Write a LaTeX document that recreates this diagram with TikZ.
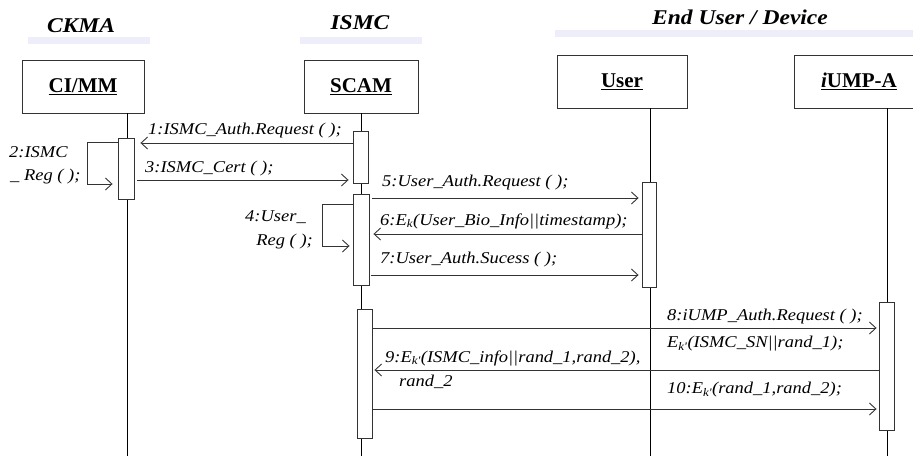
\documentclass[tikz,border=0pt]{standalone}
\usepackage{fontspec}
\setmainfont{Liberation Serif}
\newfontfamily\msgfont{Liberation Serif}[FakeStretch=1.12]
\usetikzlibrary{arrows.meta}
\definecolor{barcol}{HTML}{EEEEFA}
\definecolor{linecol}{HTML}{333333}
\tikzset{
  lifeline/.style={draw=black, line width=0.9pt},
  objbox/.style={draw=linecol, line width=0.9pt, fill=white, minimum height=53pt, inner sep=0pt, font=\fontsize{21}{24}\selectfont\bfseries},
  act/.style={draw=linecol, line width=0.9pt, fill=white, inner sep=0pt},
  msg/.style={draw=linecol, line width=0.9pt, -{Straight Barb[length=6.5pt,width=12pt,line width=0.9pt]}},
  lbl/.style={anchor=west, inner sep=0pt, font=\msgfont\itshape\fontsize{16.5}{19}\selectfont},
  hdr/.style={inner sep=0pt, font=\msgfont\bfseries\itshape\fontsize{21}{24}\selectfont},
  bar/.style={fill=barcol, draw=none}
}
\begin{document}
\begin{tikzpicture}[x=1pt, y=-1pt]
\useasboundingbox (0,0) rectangle (913,456);
\clip (0,0) rectangle (913,456);
% headers
\fill[barcol] (28,37) rectangle (150,44);
\fill[barcol] (300,37) rectangle (422,44);
\fill[barcol] (555,30) rectangle (913,37);
\node[hdr] (hCKMA) at (81,26) {CKMA};
\node[hdr] (hISMC) at (360,23) {ISMC};
\node[hdr] (hEnd) at (740,17) {End User / Device};
% lifeline coordinates
\coordinate (endC) at (127,456);
\coordinate (endS) at (361,456);
\coordinate (endU) at (650,456);
\coordinate (endI) at (887,456);
% object boxes
\node[objbox, minimum width=122pt] (CIMM) at (83,86.5) {\underline{CI/MM}};
\node[objbox, minimum width=114pt] (SCAM) at (361,86.5) {\underline{SCAM}};
\node[objbox, minimum width=130pt] (User) at (622,81.5) {\underline{User}};
\node[objbox, minimum width=140pt, text width=126pt, align=left] (IUMP) at (864,81.5) {\hspace*{20pt}\underline{\textit{i}UMP-A}};
% lifelines
\draw[lifeline] (127,113) -- (endC);
\draw[lifeline] (SCAM.south) -- (endS);
\draw[lifeline] (650,108) -- (endU);
\draw[lifeline] (887,108) -- (endI);
% activations
\node[act, minimum width=16pt, minimum height=61pt] (A1) at (126,168.5) {};
\node[act, minimum width=15pt, minimum height=52pt] (S1) at (360.5,157) {};
\node[act, minimum width=16pt, minimum height=91pt] (S2) at (361,239.5) {};
\node[act, minimum width=14pt, minimum height=105pt] (U1) at (649,234.5) {};
\node[act, minimum width=15pt, minimum height=129pt] (S3) at (364.5,373.5) {};
\node[act, minimum width=15pt, minimum height=128pt] (I1) at (886.5,366) {};
% message y levels
\coordinate (m1) at (0,143);
\coordinate (m2a) at (0,142);
\coordinate (m2b) at (0,184);
\coordinate (m3) at (0,180);
\coordinate (m4a) at (0,204);
\coordinate (m4b) at (0,246);
\coordinate (m5) at (0,198);
\coordinate (m6) at (0,234);
\coordinate (m7) at (0,275);
\coordinate (m8) at (0,328);
\coordinate (m9) at (0,370);
\coordinate (m10) at (0,409);
% messages
\draw[msg, shorten >=6pt] (S1.west |- m1) -- (A1.east |- m1);
\draw[msg, shorten >=5pt] (A1.west |- m2a) -- ++(-30,0) |- (A1.west |- m2b);
\draw[msg, shorten <=3pt, shorten >=4pt] (A1.east |- m3) -- (S1.west |- m3);
\draw[msg, shorten >=3pt] (S2.west |- m4a) -- ++(-30,0) |- (S2.west |- m4b);
\draw[msg, shorten <=3pt, shorten >=3pt] (S2.east |- m5) -- (U1.west |- m5);
\draw[msg, shorten >=4pt] (U1.west |- m6) -- (S2.east |- m6);
\draw[msg, shorten <=2pt, shorten >=3pt] (S2.east |- m7) -- (U1.west |- m7);
\draw[msg, shorten >=2pt] (S3.east |- m8) -- (I1.west |- m8);
\draw[msg, shorten >=2pt] (I1.west |- m9) -- (S3.east |- m9);
\draw[msg, shorten >=2pt] (S3.east |- m10) -- (I1.west |- m10);
% labels
\node[lbl] (l1) at (148,131) {1:ISMC\_Auth.Request ( );};
\node[lbl] (l2a) at (9,152) {2:ISMC};
\node[lbl] (l2b) at (10,177) {\_ Reg ( );};
\node[lbl] (l3) at (145,169) {3:ISMC\_Cert ( );};
\node[lbl, anchor=east] (l4a) at (306,217) {4:User\_};
\node[lbl, anchor=east] (l4b) at (313,242) {Reg ( );};
\node[lbl] (l5) at (382,183) {5:User\_Auth.Request ( );};
\node[lbl] (l6) at (380,221) {6:E\textsubscript{k}(User\_Bio\_Info||timestamp);};
\node[lbl] (l7) at (380,260) {7:User\_Auth.Sucess ( );};
\node[lbl] (l8a) at (667,317) {8:iUMP\_Auth.Request ( );};
\node[lbl] (l8b) at (667,344) {E\textsubscript{k'}(ISMC\_SN||rand\_1);};
\node[lbl] (l9a) at (385,358) {9:E\textsubscript{k'}(ISMC\_info||rand\_1,rand\_2),};
\node[lbl] (l9b) at (399,382) {rand\_2};
\node[lbl] (l10) at (667,390) {10:E\textsubscript{k'}(rand\_1,rand\_2);};
\end{tikzpicture}
\end{document}
